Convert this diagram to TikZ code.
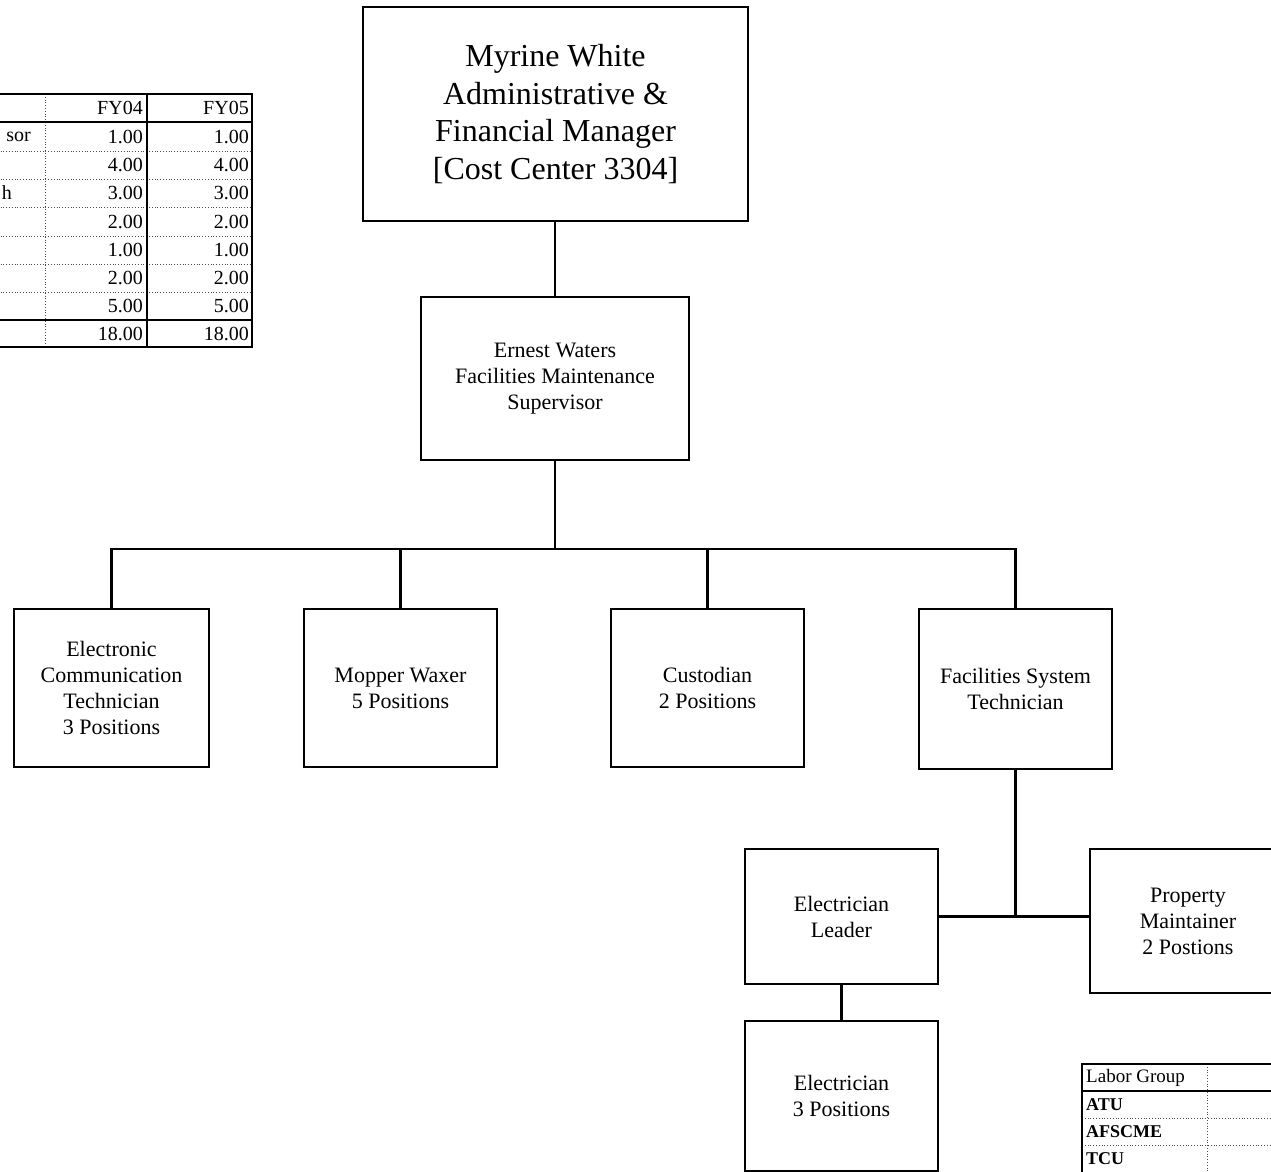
\documentclass[tikz,border=0pt]{standalone}
\usepackage{fontspec}
\setmainfont{Liberation Serif}
\begin{document}
\begin{tikzpicture}[x=1pt,y=-1pt,
  box/.style={draw, line width=2.4pt, align=center, inner sep=2pt},
  big/.style={font=\fontsize{32}{37.5}\selectfont},
  mid/.style={font=\fontsize{22}{26}\selectfont},
  conn/.style={line width=2.4pt},
  tsolid/.style={line width=2.2pt},
  tdot/.style={line width=0.8pt, dotted, black!70},
  tnum/.style={font=\fontsize{20}{20}\selectfont, inner sep=0pt, anchor=east},
  tlab/.style={font=\fontsize{19}{19}\selectfont, inner sep=0pt, anchor=west}]
\useasboundingbox (0,0) rectangle (1271,1171);
\clip (0,0) rectangle (1271,1171);
% boxes
\node[box, big, minimum width=385pt, minimum height=214pt] (top) at (555.5,114) {Myrine White\\Administrative \&\\Financial Manager\\{[}Cost Center 3304{]}};
\node[box, mid, minimum width=268pt, minimum height=163pt] (sup) at (555,378.5) {Ernest Waters\\Facilities Maintenance\\Supervisor};
\node[box, mid, minimum width=195pt, minimum height=158pt] (b1) at (111.5,688) {Electronic\\Communication\\Technician\\3 Positions};
\node[box, mid, minimum width=193pt, minimum height=158pt] (b2) at (400.5,688) {Mopper Waxer\\5 Positions};
\node[box, mid, minimum width=193pt, minimum height=158pt] (b3) at (707.5,688) {Custodian\\2 Positions};
\node[box, mid, minimum width=193pt, minimum height=160pt] (b4) at (1015.5,689) {Facilities System\\Technician};
\node[box, mid, minimum width=193pt, minimum height=135pt] (el) at (841.5,916.5) {Electrician\\Leader};
\node[box, mid, minimum width=196pt, minimum height=144pt] (prop) at (1188,921) {Property\\Maintainer\\2 Postions};
\node[box, mid, minimum width=193pt, minimum height=150pt] (elec) at (841.5,1096) {Electrician\\3 Positions};
% connectors
\draw[conn] (top.south -| sup.north) -- (sup.north);
\draw[conn] (sup.south) -- ++(0,88) coordinate (bus);
\draw[conn] (bus) -| (b1.north);
\draw[conn] (bus) -| (b2.north);
\draw[conn] (bus) -| (b3.north);
\draw[conn] (bus) -| (b4.north);
\draw[conn] (b4.south) -- (b4.south |- el.east);
\draw[conn] (el.east) -- (prop.west |- el.east);
\draw[conn] (el.south) -- (elec.north);
% top-left table
\foreach \y in {151,179,207,236,264,292} \draw[tdot] (-5,\y) -- (252,\y);
\draw[tdot] (45,94) -- (45,347);
\draw[tsolid] (-5,94) -- (252,94) -- (252,347) -- (-5,347);
\draw[tsolid] (-5,122) -- (252,122);
\draw[tsolid] (-5,320) -- (252,320);
\draw[tsolid] (147,94) -- (147,347);
\node[tnum] (h1) at (143,108) {FY04};
\node[tnum] (h2) at (249,108) {FY05};
\foreach \y/\v [count=\i] in {136.5/1.00,165/4.00,193/3.00,221.5/2.00,250/1.00,278/2.00,306/5.00,334/18.00}{
  \node[tnum] (a\i) at (143,\y) {\v};
  \node[tnum] (c\i) at (249,\y) {\v};
}
\node[tnum] (l1) at (31,136.5) {sor};
\node[tnum] (l3) at (12,193) {h};
% bottom-right table
\draw[tdot] (1082,1118) -- (1275,1118);
\draw[tdot] (1082,1145) -- (1275,1145);
\draw[tdot] (1207,1064) -- (1207,1175);
\draw[tsolid] (1275,1064) -- (1082,1064) -- (1082,1175);
\draw[tsolid] (1082,1091) -- (1275,1091);
\node[tlab] (lg) at (1086,1078) {Labor Group};
\node[tlab, font=\fontsize{18}{18}\selectfont\bfseries] (atu) at (1086,1105) {ATU};
\node[tlab, font=\fontsize{18}{18}\selectfont\bfseries] (afs) at (1086,1132) {AFSCME};
\node[tlab, font=\fontsize{18}{18}\selectfont\bfseries] (tcu) at (1086,1159) {TCU};
\end{tikzpicture}
\end{document}
